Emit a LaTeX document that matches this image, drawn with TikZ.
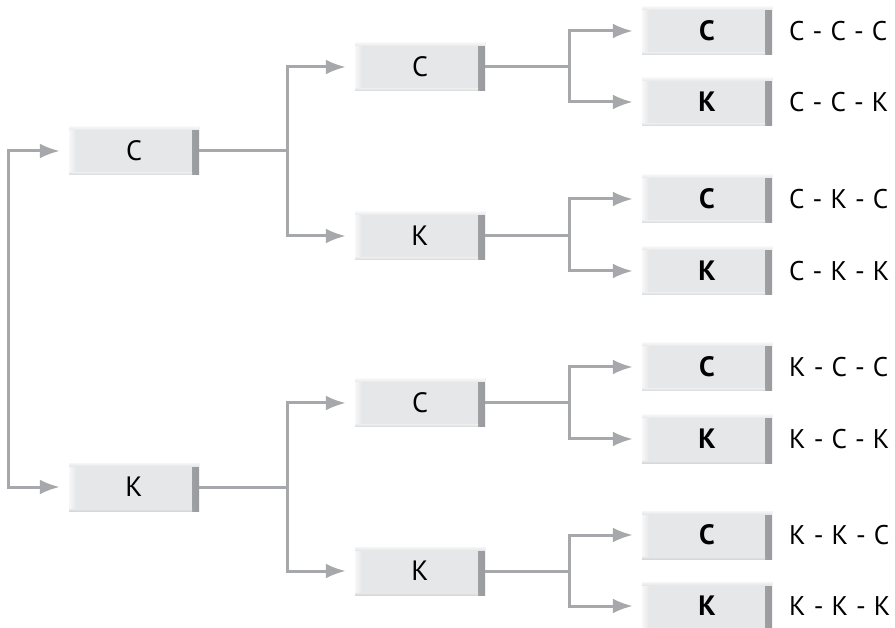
\documentclass[tikz,border=0pt]{standalone}
\usepackage{fontspec}
\setmainfont{PT Sans}
\usetikzlibrary{arrows.meta}
\definecolor{boxfill}{HTML}{E6E7E8}
\definecolor{boxdark}{HTML}{9A9B9E}
\definecolor{linegray}{HTML}{A6A8AB}
\tikzset{
  x=1pt, y=-1pt,
  box/.style={minimum width=130pt, minimum height=48pt, inner sep=0pt, fill=boxfill,
    font=\fontsize{28}{28}\selectfont,
    path picture={
      \shade[left color=boxfill, right color=boxdark]
        ([xshift=-7pt]path picture bounding box.north east) rectangle (path picture bounding box.south east);
      \shade[left color=white!70!boxfill, right color=boxfill]
        (path picture bounding box.north west) rectangle ([xshift=7pt]path picture bounding box.south west);
      \shade[top color=white!60!boxfill, bottom color=boxfill]
        (path picture bounding box.north west) rectangle ([yshift=-3pt]path picture bounding box.north east);
      \shade[top color=boxfill, bottom color=boxfill!85!gray]
        ([yshift=2pt]path picture bounding box.south west) rectangle ([xshift=-7pt]path picture bounding box.south east);
    }},
  midbox/.style={box, append after command={
      \pgfextra{\draw[black!10, line width=0.6pt] ([xshift=19pt]\tikzlastnode.west) -- ([xshift=-5pt]\tikzlastnode.east);}}},
  leafbox/.style={box, font=\fontsize{28}{28}\selectfont\bfseries},
  lbl/.style={anchor=west, inner sep=0pt, font=\fontsize{27}{27}\selectfont},
  conn/.style={draw=linegray, line width=3pt},
  arr/.style={conn, {Latex[length=20pt,width=15pt,fill=linegray,color=linegray]}-{Latex[length=20pt,width=15pt,fill=linegray,color=linegray]}, shorten <=9pt, shorten >=9pt}
}
\newcommand{\dsh}{\hspace{0.3em}-\hspace{0.3em}}
\begin{document}
\begin{tikzpicture}
\useasboundingbox (0,0) rectangle (895,628);
% level 1
\node[midbox] (a) at (134,151) {С};
\node[midbox] (b) at (134,487) {К};
% level 2
\node[midbox] (ac) at (420,67) {С};
\node[midbox] (ak) at (420,236) {К};
\node[midbox] (bc) at (420,403) {С};
\node[midbox] (bk) at (420,571) {К};
% level 3
\node[leafbox] (acc) at (707,31) {С};
\node[leafbox] (ack) at (707,102) {К};
\node[leafbox] (akc) at (707,199) {С};
\node[leafbox] (akk) at (707,271) {К};
\node[leafbox] (bcc) at (707,367) {С};
\node[leafbox] (bck) at (707,439) {К};
\node[leafbox] (bkc) at (707,535) {С};
\node[leafbox] (bkk) at (707,606) {К};
% labels
\node[lbl] (l1) at (789,31) {С\dsh С\dsh С};
\node[lbl] (l2) at (789,102) {С\dsh С\dsh К};
\node[lbl] (l3) at (789,199) {С\dsh К\dsh С};
\node[lbl] (l4) at (789,271) {С\dsh К\dsh К};
\node[lbl] (l5) at (789,367) {К\dsh С\dsh С};
\node[lbl] (l6) at (789,439) {К\dsh С\dsh К};
\node[lbl] (l7) at (789,535) {К\dsh К\dsh С};
\node[lbl] (l8) at (789,606) {К\dsh К\dsh К};
% junctions
\coordinate (j0) at (8,320);
\coordinate (ja) at (287,151);
\coordinate (jb) at (287,487);
\coordinate (jac) at (569,67);
\coordinate (jak) at (569,236);
\coordinate (jbc) at (569,403);
\coordinate (jbk) at (569,571);
% connectors
\draw[arr] (a.west) -| (j0) |- (b.west);
\draw[conn] (a.east) -- (ja);
\draw[arr] (ac.west) -| (ja) |- (ak.west);
\draw[conn] (b.east) -- (jb);
\draw[arr] (bc.west) -| (jb) |- (bk.west);
\draw[conn] (ac.east) -- (jac);
\draw[arr] (acc.west) -| (jac) |- (ack.west);
\draw[conn] (ak.east) -- (jak);
\draw[arr] (akc.west) -| (jak) |- (akk.west);
\draw[conn] (bc.east) -- (jbc);
\draw[arr] (bcc.west) -| (jbc) |- (bck.west);
\draw[conn] (bk.east) -- (jbk);
\draw[arr] (bkc.west) -| (jbk) |- (bkk.west);
\end{tikzpicture}
\end{document}
